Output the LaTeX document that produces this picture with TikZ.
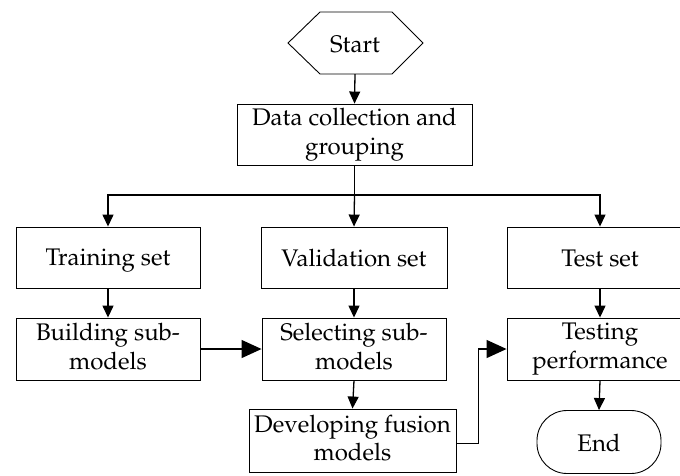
\documentclass[tikz,border=0pt]{standalone}
\usepackage[T1]{fontenc}
\usepackage{mathpazo}
\usetikzlibrary{arrows.meta}
\tikzset{
  txt/.style={inner sep=0pt, align=center, font=\fontsize{24}{28.5}\selectfont, execute at begin node={\rule{0pt}{23pt}}, execute at end node={\rule[-5pt]{0pt}{5pt}}},
  box/.style={txt, draw, line width=0.9pt, minimum width=#1, minimum height=61pt},
  box/.default=184pt,
  conn/.style={line width=1.3pt, -{Triangle[length=12pt,width=11pt]}},
  bigconn/.style={line width=1.3pt, -{Triangle[length=20pt,width=18pt]}},
}
\begin{document}
\begin{tikzpicture}[x=1pt,y=-1pt]
\clip (0,0) rectangle (680,475);
\fill[white] (0,0) rectangle (680,475);
% start hexagon
\draw[line width=0.9pt] (288,43) -- (320,12) -- (392,12) -- (423,43) -- (392,74) -- (320,74) -- cycle;
\node[txt, minimum height=62pt] (start) at (355,43) {Start};
\node[box=235pt] (data) at (354.5,134.5) {Data collection and\\grouping};
\node[box=184pt] (train) at (108,257.5) {Training set};
\node[box=186pt] (valid) at (354,257.5) {Validation set};
\node[box=186pt] (test) at (600,257.5) {Test set};
\node[box=184pt, minimum height=62pt] (build) at (108,349) {Building sub-\\models};
\node[box=184pt, minimum height=62pt] (select) at (354,349) {Selecting sub-\\models};
\node[box=186pt, minimum height=62pt] (testing) at (600,349) {Testing\\performance};
\node[box=207pt, minimum height=63pt] (develop) at (352.5,440.5) {Developing fusion\\models};
\node[box=124pt, minimum height=63pt, rounded corners=30pt] (end) at (599,442) {End};
\coordinate (split) at (354.5,195);
% connectors
\draw[conn] (start.south) -- (data.north);
\draw[line width=1.3pt] (data.south) -- (split);
\draw[conn] (split) -| (train.north);
\draw[conn] (split) -- (valid.north);
\draw[conn] (split) -| (test.north);
\draw[conn] (train.south) -- (build.north);
\draw[conn] (valid.south) -- (select.north);
\draw[conn] (test.south) -- (testing.north);
\draw[bigconn] (build.east) -- (select.west);
\draw[conn] (select.south) -- (develop.north);
\draw[conn] (testing.south) -- (end.north);
\draw[bigconn] ([yshift=-3pt]develop.east) -- ++(22,0) |- (testing.west);
\end{tikzpicture}
\end{document}
